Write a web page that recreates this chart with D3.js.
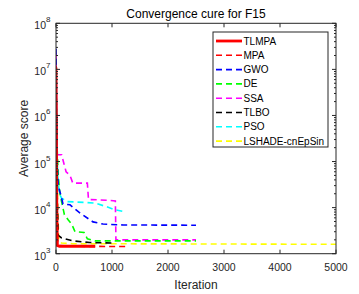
<!DOCTYPE html>
<html><head><meta charset="utf-8">
<script src="https://cdn.jsdelivr.net/npm/d3@7/dist/d3.min.js"></script>
<style>body{margin:0;background:#fff;} text{font-family:"Liberation Sans",Arial,sans-serif;}</style>
</head><body><svg id="c" width="359" height="294"></svg>
<script>
const names = ["TLMPA","MPA","GWO","DE","SSA","TLBO","PSO","LSHADE-cnEpSin"];
const colors = ["#ff0000","#ff0000","#0000ff","#00ff00","#ff00ff","#000000","#00ffff","#ffff00"];
const TLMPA = [[0,1.1e7],[5,1e6],[15,1e4],[25,1.5e3],[60,1.45e3],[700,1.45e3]];
const MPA = [[0,1.2e7],[10,1e5],[25,2e3],[60,1.5e3],[300,1.45e3],[1250,1.43e3]];
const GWO = [[0,2.8e7],[10,1e6],[20,1e5],[40,3e4],[80,2e4],[125,1.2e4],[250,1.15e4],[430,7.6e3],[660,4.9e3],[840,4.4e3],[1200,4.2e3],[2500,4.15e3]];
const DE = [[0,1e7],[10,1e6],[20,2e5],[40,5e4],[70,2e4],[150,7e3],[220,5.4e3],[280,4.4e3],[340,3e3],[500,2.9e3],[560,2.1e3],[700,1.9e3],[2500,1.9e3]];
const SSA = [[0,2.2e7],[20,1.4e5],[100,1.4e5],[180,6e4],[250,5e4],[300,3.4e4],[560,3.4e4],[580,1.5e4],[900,1.45e4],[1060,1.4e4],[1070,2e3],[2500,2e3]];
const TLBO = [[0,8e6],[10,5e5],[20,2e4],[40,2.5e3],[100,2.2e3],[300,1.9e3],[600,1.75e3],[1000,1.7e3]];
const PSO = [[0,1.2e7],[10,5e5],[30,5e4],[60,2e4],[100,1.6e4],[200,1.35e4],[500,1.3e4],[700,1.25e4],[900,1.05e4],[1050,9e3],[1250,8e3]];
const LSHADE = [[0,5e6],[10,1e6],[20,1e5],[30,1e4],[50,2e3],[100,1.7e3],[300,1.65e3],[5000,1.6e3]];
const seriesData = [TLMPA,MPA,GWO,DE,SSA,TLBO,PSO,LSHADE];
const xTicks = [0,1000,2000,3000,4000,5000];
const yTicks = [1e3,1e4,1e5,1e6,1e7,1e8];
const yExp = ["3","4","5","6","7","8"];

const svg = d3.select("#c");
const L=56, R=336, T=23.3, B=253.7;
const x = d3.scaleLinear().domain([0,5000]).range([L,R]);
const y = d3.scaleLog().domain([1e3,1e8]).range([B,T]);

// clip
svg.append("clipPath").attr("id","clip").append("rect").attr("x",L).attr("y",T).attr("width",R-L).attr("height",B-T);

const line = d3.line().x(d=>x(d[0])).y(d=>y(d[1]));
const g = svg.append("g").attr("clip-path","url(#clip)");
for (let i = seriesData.length-1; i>=0; i--) {
  g.append("path").attr("d", line(seriesData[i])).attr("fill","none")
   .attr("stroke", colors[i]).attr("stroke-width", i===0?2.8:1.6)
   .attr("stroke-dasharray", i===0?null:"6,4");
}

// axes
const minor = [];
for (let e=3;e<8;e++) for (let k=2;k<10;k++) minor.push(k*Math.pow(10,e));
const ax = svg.append("g").attr("stroke","#262626").attr("stroke-width",1).attr("fill","none");
ax.append("rect").attr("x",L).attr("y",T).attr("width",R-L).attr("height",B-T);
xTicks.forEach(t=>{
  ax.append("line").attr("x1",x(t)).attr("x2",x(t)).attr("y1",B).attr("y2",B-4);
  ax.append("line").attr("x1",x(t)).attr("x2",x(t)).attr("y1",T).attr("y2",T+4);
});
yTicks.forEach(t=>{
  ax.append("line").attr("x1",L).attr("x2",L+4).attr("y1",y(t)).attr("y2",y(t));
  ax.append("line").attr("x1",R).attr("x2",R-4).attr("y1",y(t)).attr("y2",y(t));
});
minor.forEach(t=>{
  ax.append("line").attr("x1",L).attr("x2",L+2).attr("y1",y(t)).attr("y2",y(t));
  ax.append("line").attr("x1",R).attr("x2",R-2).attr("y1",y(t)).attr("y2",y(t));
});

const tl = svg.append("g").attr("fill","#262626").attr("font-size","10.5px");
xTicks.forEach(t=>{
  tl.append("text").attr("x",x(t)).attr("y",B+17).attr("text-anchor","middle").text(t);
});
yTicks.forEach((t,i)=>{
  const tx = tl.append("text").attr("x",L-10).attr("y",y(t)+6).attr("text-anchor","end").text("10");
  tl.append("text").attr("x",L-10).attr("y",y(t)-1).attr("font-size","8px").attr("text-anchor","start").text(yExp[i]);
});

svg.append("text").attr("x",(L+R)/2).attr("y",18).attr("text-anchor","middle").attr("font-size","12px").attr("fill","#000").text("Convergence cure for F15");
svg.append("text").attr("x",(L+R)/2).attr("y",289).attr("text-anchor","middle").attr("font-size","12px").attr("fill","#262626").text("Iteration");
svg.append("text").attr("transform",`translate(28,${(T+B)/2}) rotate(-90)`).attr("text-anchor","middle").attr("font-size","12px").attr("fill","#262626").text("Average score");

// legend
const lg = svg.append("g");
lg.append("rect").attr("x",213).attr("y",32).attr("width",115).attr("height",115).attr("fill","#fff").attr("stroke","#262626").attr("stroke-width",1);
names.forEach((n,i)=>{
  const yy = 41 + i*14.3;
  lg.append("line").attr("x1",216).attr("x2",242).attr("y1",yy).attr("y2",yy)
    .attr("stroke",colors[i]).attr("stroke-width",i===0?2.8:1.6).attr("stroke-dasharray",i===0?null:"6,4");
  lg.append("text").attr("x",243.5).attr("y",yy+3.5).attr("font-size","10px").attr("fill","#000").text(n);
});
</script></body></html>
